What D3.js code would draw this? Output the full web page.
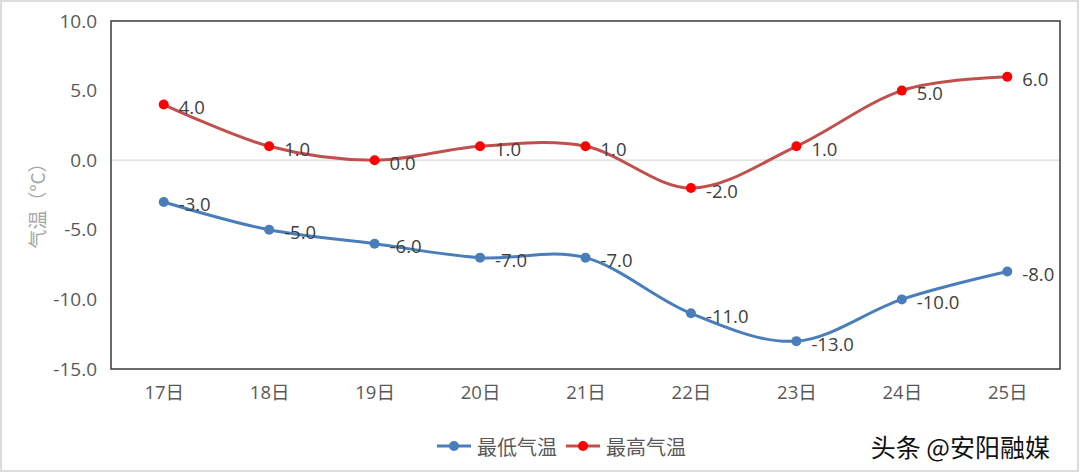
<!DOCTYPE html>
<html><head><meta charset="utf-8">
<script src="https://cdn.jsdelivr.net/npm/d3@7"></script>
<style>
html,body{margin:0;padding:0;background:#fff;}
svg{display:block;font-family:"Open Sans","Noto Sans CJK SC",sans-serif;}
</style></head>
<body><svg id="c" width="1080" height="473"></svg>
<script>
const categories = ["17日","18日","19日","20日","21日","22日","23日","24日","25日"];
const lowTemps  = [-3, -5, -6, -7, -7, -11, -13, -10, -8];
const highTemps = [4, 1, 0, 1, 1, -2, 1, 5, 6];
const yTicks = [10, 5, 0, -5, -10, -15];
const seriesNames = ["最低气温", "最高气温"];

const fmt = d => d3.format(".1f")(d).replace("\u2212","-");

const svg = d3.select("#c");
const W = 1080, H = 473;
const m = {left:111, right:20, top:21, bottom:104};

// outer frame
svg.append("rect").attr("x",1).attr("y",1).attr("width",W-3).attr("height",H-3)
  .attr("fill","#fff").attr("stroke","#dcdcdc").attr("stroke-width",2);

const x = d3.scalePoint().domain(categories).range([m.left, W-m.right]).padding(0.5);
const y = d3.scaleLinear().domain([-15, 10]).range([H-m.bottom, m.top]);

// zero gridline
svg.append("line").attr("x1",m.left).attr("x2",W-m.right)
  .attr("y1",y(0)).attr("y2",y(0)).attr("stroke","#d9d9d9").attr("stroke-width",1.2);

// plot border
svg.append("rect").attr("x",m.left).attr("y",m.top)
  .attr("width",W-m.right-m.left).attr("height",H-m.bottom-m.top)
  .attr("fill","none").attr("stroke","#3a3a3a").attr("stroke-width",1.5);

// y axis
const yAxis = svg.append("g").attr("transform",`translate(${m.left},0)`)
  .call(d3.axisLeft(y).tickValues(yTicks).tickFormat(fmt).tickSize(0).tickPadding(14));
yAxis.select(".domain").remove();
yAxis.selectAll("text").attr("fill","#595959").style("font-size","19px")
  .style("font-family","'Open Sans',sans-serif");

// x axis
const xAxis = svg.append("g").attr("transform",`translate(0,${H-m.bottom})`)
  .call(d3.axisBottom(x).tickSize(0).tickPadding(17));
xAxis.select(".domain").remove();
xAxis.selectAll("text").attr("fill","#595959").style("font-size","18.5px")
  .style("font-family","'Open Sans','Noto Sans CJK SC',sans-serif");

// y title
svg.append("text").attr("transform",`translate(36,${(m.top+H-m.bottom)/2 + 6}) rotate(-90)`)
  .attr("text-anchor","middle").attr("dominant-baseline","central")
  .attr("fill","#a6a6a6").style("font-size","19px")
  .style("font-family","'Noto Sans CJK SC',sans-serif").text("气温（°C）");

const line = d3.line().x((d,i)=>x(categories[i])).y(d=>y(d)).curve(d3.curveCardinal.tension(0));

const series = [
  {name:seriesNames[0], values:lowTemps, line:"#4a7ebb", marker:"#4a7ebb"},
  {name:seriesNames[1], values:highTemps, line:"#c0504d", marker:"#ff0000"}
];

series.forEach(s=>{
  svg.append("path").datum(s.values).attr("d",line).attr("fill","none")
    .attr("stroke",s.line).attr("stroke-width",3);
  svg.selectAll(null).data(s.values).enter().append("circle")
    .attr("cx",(d,i)=>x(categories[i])).attr("cy",d=>y(d)).attr("r",5)
    .attr("fill",s.marker);
  svg.selectAll(null).data(s.values).enter().append("text")
    .attr("x",(d,i)=>x(categories[i])+15).attr("y",d=>y(d)+2)
    .attr("dominant-baseline","central")
    .attr("fill","#404040").style("font-size","18.5px")
    .style("font-family","'Open Sans',sans-serif")
    .text(d=>fmt(d));
});

// legend
const lg = svg.append("g").attr("transform","translate(0,446)");
const legendItems = [{x:437, s:series[0]}, {x:566, s:series[1]}];
legendItems.forEach(it=>{
  lg.append("line").attr("x1",it.x).attr("x2",it.x+34).attr("y1",0).attr("y2",0)
    .attr("stroke",it.s.line).attr("stroke-width",3);
  lg.append("circle").attr("cx",it.x+17).attr("cy",0).attr("r",5).attr("fill",it.s.marker);
  lg.append("text").attr("x",it.x+40).attr("y",0).attr("dominant-baseline","central")
    .attr("fill","#595959").style("font-size","20px")
    .style("font-family","'Noto Sans CJK SC',sans-serif").text(it.s.name);
});

// watermark
svg.append("text").attr("x",1050).attr("y",446).attr("text-anchor","end")
  .attr("dominant-baseline","central").attr("fill","#111")
  .attr("stroke","#fff").attr("stroke-width",3).attr("paint-order","stroke")
  .style("font-size","25px").style("font-family","'Noto Sans CJK SC',sans-serif")
  .text("头条 @安阳融媒");
</script></body></html>
